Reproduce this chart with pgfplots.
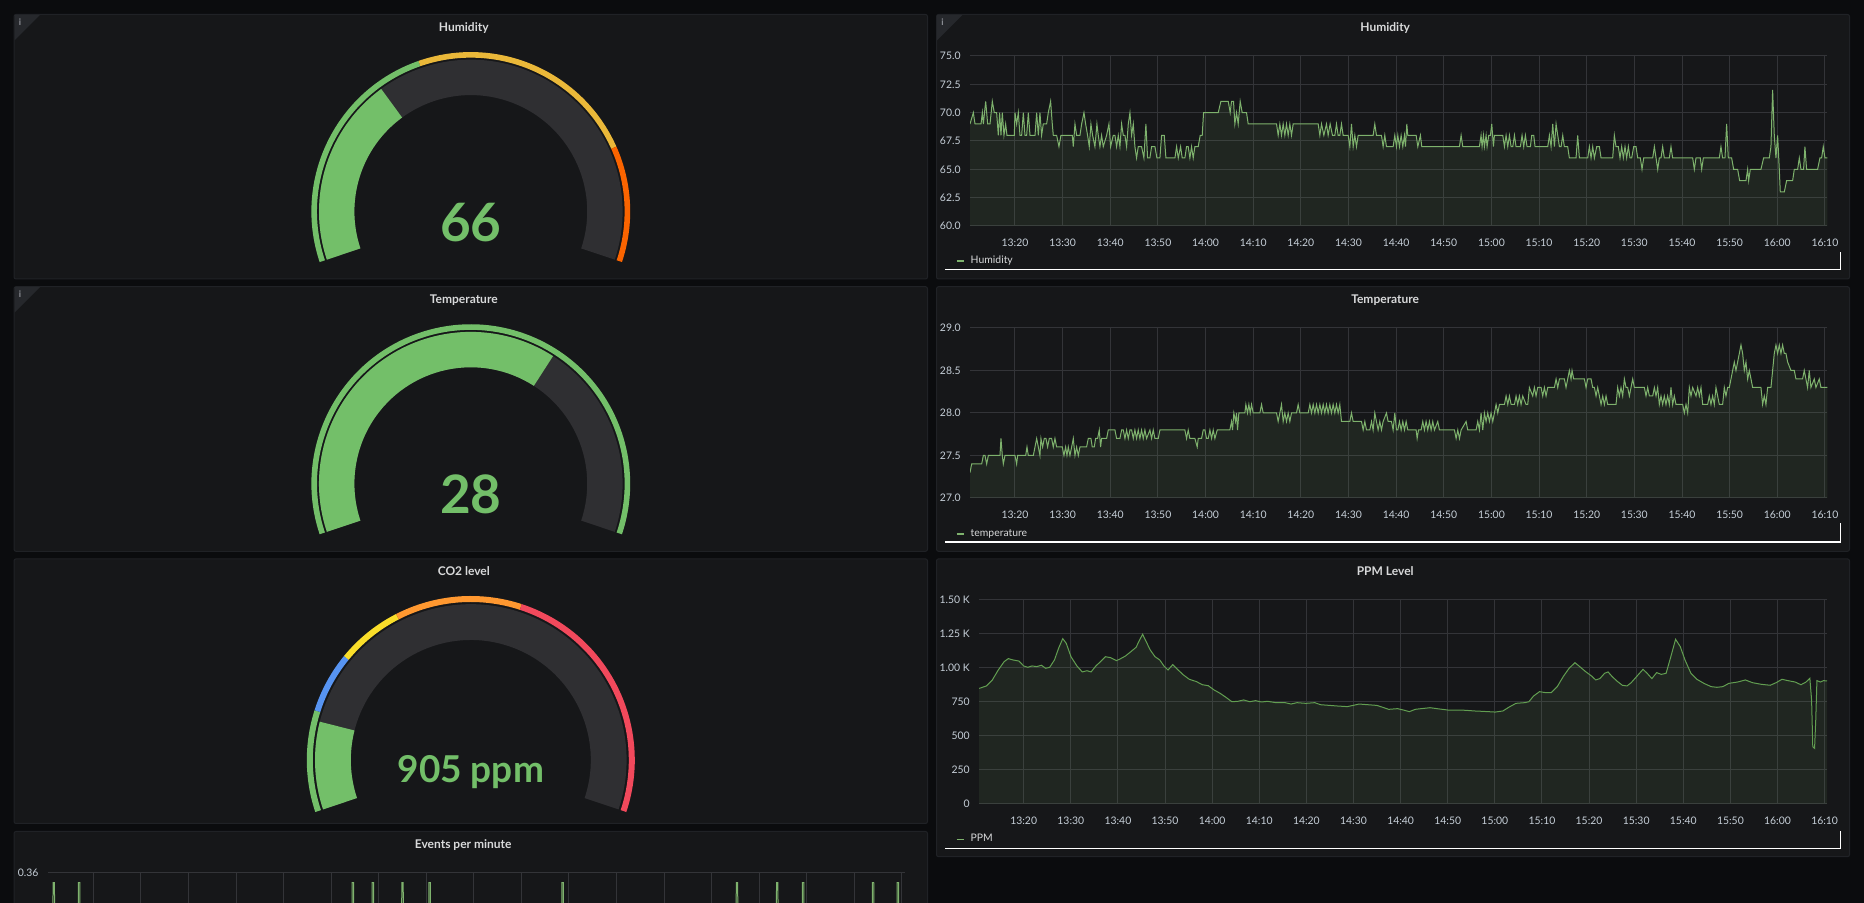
\documentclass[border=0pt]{standalone}
\usepackage{fontspec}
\setmainfont{Lato}
\usepackage{pgfplots}
\pgfplotsset{compat=1.18}
\usepackage{pgfplotstable}

\definecolor{pagebg}{HTML}{0B0C0E}
\definecolor{panelbg}{HTML}{161719}
\definecolor{panelbd}{HTML}{202226}
\definecolor{track}{HTML}{2F2F32}
\definecolor{ggreen}{HTML}{73BF69}
\definecolor{gyellow}{HTML}{EAB839}
\definecolor{gorange}{HTML}{FA6400}
\definecolor{gblue}{HTML}{5794F2}
\definecolor{gyellow2}{HTML}{FADE2A}
\definecolor{gorange2}{HTML}{FF9830}
\definecolor{gred}{HTML}{F2495C}
\definecolor{series}{HTML}{7EB26D}
\definecolor{seriesdk}{HTML}{629E51}
\definecolor{gridc}{HTML}{333438}
\definecolor{tickc}{HTML}{C7D0D9}
\definecolor{titlec}{HTML}{D8D9DA}
\definecolor{infobg}{HTML}{26282C}
\definecolor{infoc}{HTML}{8E9197}

\newcommand{\tickfont}{\fontsize{5.2}{6}\selectfont}
\newcommand{\titlefont}{\fontsize{6}{7}\selectfont\bfseries}
\newcommand{\bigfont}{\fontsize{26.5}{30}\selectfont\bfseries}
\newcommand{\ppmfont}{\fontsize{18.5}{22}\selectfont\bfseries}

% annular sector: r_in, r_out, a_start, a_end, colour
\newcommand{\sector}[5]{\fill[#5] (#3:#2) arc[start angle=#3,end angle=#4,radius=#2] -- (#4:#1) arc[start angle=#4,end angle=#3,radius=#1] -- cycle;}

\pgfplotsset{
  graf/.style={
    scale only axis,
    anchor=south west,
    axis line style={draw=none},
    major tick length=0pt,
    tick style={draw=none},
    grid=major,
    major grid style={draw=gridc, line width=0.5pt},
    tick label style={font=\tickfont, text=tickc},
    xticklabel style={yshift=-2.8pt},
    yticklabel style={xshift=-1.2pt},
    xmin=10.56, xmax=190.5,
    xtick={20,30,40,50,60,70,80,90,100,110,120,130,140,150,160,170,180,190},
    xticklabels={13:20,13:30,13:40,13:50,14:00,14:10,14:20,14:30,14:40,14:50,15:00,15:10,15:20,15:30,15:40,15:50,16:00,16:10},
    clip=true,
  }
}

% Humidity (% RH), time in minutes after 13:00
\pgfplotstableread[row sep=\\]{t v\\
10.56 69\\ 11.26 70\\ 11.61 69\\ 12.87 69\\ 13.15 70\\ 13.36 69\\ 13.85 71\\ 14.27 69\\ 14.76 69\\ 15.24 71\\ 15.66 70\\ 16.15 70\\ 16.50 68\\ 16.78 70\\ 17.06 68\\ 17.34 70\\ 17.69 68\\ 18.04 69\\ 18.32 68\\ 19.86 68\\ 20.0 70\\ 20.35 69\\ 20.7 70\\ 21.05 68\\ 21.4 68\\ 21.75 70\\ 22.1 68\\ 22.45 68\\ 22.8 70\\ 23.15 68\\ 24.2 68\\ 24.55 70\\ 24.9 68\\ 25.24 70\\ 25.59 68\\ 25.94 69\\ 26.64 69\\ 26.99 70\\ 27.48 71\\ 27.83 69\\ 28.04 68\\ 28.74 68\\ 29.23 67\\ 29.65 68\\ 32.03 68\\ 32.24 67\\ 32.59 69\\ 32.94 68\\ 33.64 68\\ 33.99 69\\ 34.48 70\\ 34.83 69\\ 35.24 68\\ 35.59 67\\ 35.94 69\\ 36.29 68\\ 36.78 67\\ 37.2 69\\ 37.48 68\\ 37.83 67\\ 38.18 68\\ 38.53 67\\ 39.23 68\\ 39.72 69\\ 40.07 67\\ 40.63 68\\ 40.98 68\\ 41.33 67\\ 41.68 68\\ 42.03 67\\ 42.38 69\\ 42.73 68\\ 43.08 68\\ 43.43 67\\ 43.78 69\\ 44.13 70\\ 44.48 68\\ 44.83 69\\ 45.17 67\\ 45.52 66\\ 45.87 67\\ 46.57 67\\ 47.06 66\\ 47.48 69\\ 47.83 66\\ 48.32 66\\ 48.67 67\\ 49.37 67\\ 49.79 66\\ 50.42 66\\ 50.77 68\\ 51.33 68\\ 51.68 66\\ 53.57 66\\ 53.92 67\\ 54.27 66\\ 54.76 67\\ 55.1 66\\ 55.66 66\\ 56.01 67\\ 56.36 67\\ 56.71 66\\ 57.06 67\\ 57.41 66\\ 57.76 67\\ 58.46 67\\ 58.88 68\\ 59.3 68\\ 59.58 70\\ 62.66 70\\ 63.22 71\\ 64.76 71\\ 65.17 70\\ 65.45 71\\ 65.87 71\\ 66.15 69\\ 66.5 70\\ 66.85 69\\ 67.27 71\\ 67.69 70\\ 68.6 70\\ 68.95 69\\ 74.9 69\\ 75.24 68\\ 75.59 69\\ 75.94 68\\ 76.29 69\\ 76.64 68\\ 76.99 69\\ 77.34 68\\ 77.69 69\\ 78.04 68\\ 78.39 69\\ 83.64 69\\ 83.99 68\\ 84.34 69\\ 84.83 68\\ 85.38 69\\ 85.73 68\\ 86.15 69\\ 86.64 68\\ 87.13 68\\ 87.48 69\\ 87.83 68\\ 88.18 68\\ 88.53 69\\ 88.88 68\\ 89.93 68\\ 90.28 67\\ 90.63 69\\ 90.98 67\\ 91.33 68\\ 91.68 67\\ 92.03 68\\ 95.17 68\\ 95.52 69\\ 95.87 68\\ 96.92 68\\ 97.27 67\\ 97.62 68\\ 97.97 67\\ 99.37 67\\ 99.72 68\\ 100.07 67\\ 100.35 68\\ 100.7 67\\ 101.05 68\\ 101.4 67\\ 101.75 68\\ 101.96 67\\ 102.24 69\\ 102.45 68\\ 104.2 68\\ 104.55 67\\ 105.1 68\\ 105.38 67\\ 113.29 67\\ 113.64 68\\ 113.99 67\\ 117.48 67\\ 117.83 68\\ 118.04 67\\ 118.32 68\\ 118.53 67\\ 118.88 68\\ 119.09 67\\ 119.44 68\\ 119.79 68\\ 120.07 69\\ 120.42 67\\ 120.63 68\\ 122.38 68\\ 122.73 67\\ 123.08 68\\ 123.43 67\\ 123.78 68\\ 124.13 67\\ 124.48 67\\ 124.83 68\\ 125.17 67\\ 126.08 67\\ 126.43 68\\ 126.78 67\\ 127.13 68\\ 127.48 67\\ 128.18 67\\ 128.46 68\\ 128.88 68\\ 129.16 67\\ 131.82 67\\ 132.17 68\\ 132.52 67\\ 132.87 69\\ 133.22 67\\ 133.57 69\\ 133.92 68\\ 134.27 67\\ 134.62 67\\ 134.97 68\\ 135.31 67\\ 136.01 67\\ 136.36 66\\ 137.76 66\\ 138.11 68\\ 138.46 66\\ 140.21 66\\ 140.56 67\\ 140.91 66\\ 141.26 67\\ 141.61 66\\ 142.1 67\\ 142.66 67\\ 143.01 66\\ 145.45 66\\ 145.8 68\\ 146.15 67\\ 146.64 67\\ 146.99 66\\ 147.34 67\\ 147.69 66\\ 148.04 67\\ 148.39 66\\ 148.74 67\\ 149.09 66\\ 149.44 66\\ 149.86 67\\ 150.35 67\\ 150.7 66\\ 151.26 66\\ 151.61 65\\ 151.96 66\\ 153.85 66\\ 154.2 67\\ 154.55 66\\ 154.9 65\\ 155.24 66\\ 155.59 66\\ 155.94 67\\ 156.29 66\\ 157.34 66\\ 157.69 67\\ 158.04 66\\ 162.24 66\\ 162.59 65\\ 162.94 66\\ 163.85 66\\ 164.13 65\\ 164.48 66\\ 167.83 66\\ 168.18 67\\ 168.53 66\\ 169.02 66\\ 169.37 69\\ 169.72 66\\ 170.42 66\\ 170.84 65\\ 171.68 65\\ 172.1 64\\ 173.43 64\\ 173.78 65\\ 173.99 64\\ 174.34 65\\ 176.57 65\\ 177.13 66\\ 178.32 66\\ 178.67 67\\ 179.02 72\\ 179.37 68\\ 179.72 66\\ 180.07 68\\ 180.42 65\\ 180.63 63\\ 181.47 63\\ 181.96 64\\ 183.22 64\\ 183.57 65\\ 184.27 65\\ 184.62 66\\ 184.97 65\\ 185.52 65\\ 185.8 67\\ 186.15 65\\ 188.46 65\\ 188.95 66\\ 189.3 66\\ 189.65 67\\ 190.0 66\\ 190.5 66\\
}\humdata

% Temperature
\pgfplotstableread[row sep=\\]{t v\\
10.56 27.3\\ 10.91 27.4\\ 13.01 27.4\\ 13.36 27.5\\ 13.71 27.5\\ 14.06 27.4\\ 14.41 27.5\\ 16.85 27.5\\ 17.06 27.7\\ 17.34 27.5\\ 17.55 27.4\\ 17.9 27.5\\ 20.0 27.5\\ 20.35 27.4\\ 20.56 27.5\\ 22.24 27.5\\ 22.52 27.6\\ 22.8 27.5\\ 23.85 27.5\\ 24.2 27.6\\ 24.55 27.7\\ 24.9 27.6\\ 25.24 27.5\\ 25.45 27.7\\ 25.8 27.6\\ 26.15 27.7\\ 26.5 27.7\\ 26.85 27.6\\ 27.2 27.7\\ 27.69 27.7\\ 28.04 27.6\\ 28.39 27.7\\ 28.74 27.6\\ 29.93 27.6\\ 30.28 27.5\\ 30.63 27.6\\ 30.91 27.5\\ 31.19 27.6\\ 31.54 27.5\\ 31.89 27.6\\ 32.24 27.7\\ 32.59 27.5\\ 32.94 27.6\\ 33.29 27.5\\ 33.64 27.6\\ 35.03 27.6\\ 35.38 27.7\\ 35.94 27.7\\ 36.22 27.6\\ 36.64 27.6\\ 36.92 27.7\\ 37.34 27.7\\ 37.69 27.8\\ 37.97 27.6\\ 38.18 27.7\\ 39.23 27.7\\ 39.58 27.8\\ 40.98 27.8\\ 41.33 27.7\\ 42.03 27.7\\ 42.38 27.8\\ 42.73 27.8\\ 43.08 27.7\\ 43.43 27.8\\ 43.78 27.7\\ 44.13 27.8\\ 44.48 27.8\\ 44.83 27.7\\ 45.17 27.8\\ 45.52 27.7\\ 45.87 27.8\\ 46.22 27.7\\ 46.57 27.8\\ 46.92 27.7\\ 47.27 27.8\\ 47.62 27.7\\ 48.32 27.8\\ 48.67 27.7\\ 49.02 27.8\\ 49.37 27.7\\ 50.07 27.7\\ 50.42 27.8\\ 55.66 27.8\\ 56.01 27.7\\ 56.36 27.8\\ 56.71 27.7\\ 57.76 27.7\\ 58.25 27.6\\ 58.46 27.7\\ 59.16 27.7\\ 59.51 27.8\\ 59.86 27.8\\ 60.21 27.7\\ 60.56 27.7\\ 60.91 27.8\\ 61.26 27.7\\ 61.61 27.8\\ 61.96 27.7\\ 62.45 27.8\\ 65.1 27.8\\ 65.45 27.9\\ 65.66 27.8\\ 65.94 28.0\\ 66.29 27.9\\ 66.5 28.0\\ 66.71 27.8\\ 66.99 28.0\\ 68.25 28.0\\ 68.46 28.1\\ 68.81 28.0\\ 69.09 28.1\\ 69.37 28.0\\ 69.65 28.1\\ 70.0 28.0\\ 71.4 28.0\\ 71.75 28.1\\ 72.1 28.0\\ 74.9 28.0\\ 75.24 27.9\\ 75.59 28.0\\ 75.94 28.1\\ 76.29 27.9\\ 76.64 28.0\\ 76.99 27.9\\ 77.34 28.0\\ 77.69 27.9\\ 78.04 28.0\\ 79.09 28.0\\ 79.44 28.1\\ 79.79 28.0\\ 81.54 28.0\\ 81.89 28.1\\ 82.24 28.0\\ 82.59 28.1\\ 82.94 28.0\\ 83.29 28.1\\ 83.64 28.0\\ 83.99 28.1\\ 84.34 28.0\\ 84.69 28.1\\ 85.03 28.0\\ 85.38 28.1\\ 85.73 28.0\\ 86.08 28.1\\ 86.43 28.0\\ 86.78 28.1\\ 87.13 28.0\\ 87.48 28.1\\ 87.83 28.0\\ 88.18 28.1\\ 88.53 27.9\\ 90.28 27.9\\ 90.63 28.0\\ 90.98 27.9\\ 92.73 27.9\\ 93.08 27.8\\ 93.43 27.9\\ 93.78 27.8\\ 94.48 27.8\\ 94.83 27.9\\ 95.17 27.8\\ 95.52 28.0\\ 95.87 27.9\\ 96.22 27.8\\ 96.57 27.9\\ 96.92 27.8\\ 97.27 27.9\\ 97.97 28.0\\ 98.32 27.9\\ 99.02 27.9\\ 99.37 27.8\\ 99.72 28.0\\ 100.07 27.8\\ 100.35 27.8\\ 100.7 27.9\\ 101.05 27.8\\ 101.4 27.9\\ 101.75 27.8\\ 102.1 27.9\\ 102.45 27.8\\ 104.2 27.8\\ 104.41 27.7\\ 104.69 27.8\\ 105.24 27.8\\ 105.59 27.9\\ 105.94 27.8\\ 106.29 27.9\\ 106.64 27.8\\ 106.99 27.9\\ 107.34 27.8\\ 107.69 27.9\\ 108.04 27.8\\ 108.74 27.9\\ 109.09 27.8\\ 112.24 27.8\\ 112.59 27.7\\ 112.94 27.8\\ 113.29 27.7\\ 113.64 27.8\\ 114.69 27.9\\ 115.03 27.8\\ 116.78 27.8\\ 117.13 27.9\\ 117.48 27.8\\ 117.83 28.0\\ 118.18 27.8\\ 118.53 28.0\\ 118.88 27.9\\ 119.23 28.0\\ 119.58 27.9\\ 119.93 28.0\\ 120.28 27.9\\ 120.63 28.0\\ 120.98 28.1\\ 121.33 28.0\\ 121.68 28.1\\ 122.73 28.1\\ 123.08 28.2\\ 123.43 28.1\\ 123.78 28.2\\ 124.13 28.1\\ 124.83 28.1\\ 125.17 28.2\\ 125.52 28.1\\ 125.87 28.2\\ 126.22 28.1\\ 126.57 28.2\\ 127.27 28.1\\ 127.62 28.1\\ 127.97 28.3\\ 128.67 28.2\\ 129.02 28.3\\ 129.37 28.2\\ 129.72 28.3\\ 130.42 28.3\\ 130.77 28.2\\ 131.12 28.3\\ 131.47 28.2\\ 131.82 28.3\\ 133.22 28.3\\ 133.57 28.4\\ 133.92 28.3\\ 134.27 28.4\\ 135.31 28.4\\ 135.66 28.3\\ 136.01 28.4\\ 136.36 28.5\\ 136.71 28.4\\ 136.92 28.5\\ 137.27 28.4\\ 139.51 28.4\\ 139.86 28.3\\ 140.21 28.4\\ 140.91 28.4\\ 141.26 28.3\\ 141.61 28.3\\ 141.96 28.2\\ 142.31 28.3\\ 142.66 28.2\\ 143.01 28.1\\ 143.36 28.2\\ 143.71 28.1\\ 144.06 28.2\\ 144.41 28.1\\ 146.15 28.1\\ 146.5 28.3\\ 146.85 28.2\\ 147.2 28.3\\ 147.55 28.2\\ 147.9 28.4\\ 148.25 28.3\\ 148.6 28.3\\ 148.95 28.2\\ 149.3 28.3\\ 149.65 28.4\\ 150.0 28.3\\ 152.1 28.3\\ 152.45 28.2\\ 152.8 28.3\\ 153.15 28.2\\ 153.85 28.2\\ 154.2 28.3\\ 154.55 28.2\\ 154.9 28.3\\ 155.24 28.1\\ 155.59 28.2\\ 155.94 28.1\\ 156.29 28.2\\ 156.64 28.1\\ 156.99 28.2\\ 157.34 28.1\\ 157.69 28.3\\ 158.04 28.1\\ 158.39 28.2\\ 158.74 28.1\\ 160.14 28.1\\ 160.49 28.0\\ 160.84 28.1\\ 161.19 28.0\\ 161.54 28.3\\ 161.89 28.2\\ 162.24 28.3\\ 162.94 28.2\\ 163.29 28.3\\ 163.64 28.2\\ 163.99 28.3\\ 164.34 28.1\\ 165.38 28.1\\ 165.73 28.2\\ 166.08 28.1\\ 166.43 28.2\\ 166.78 28.1\\ 167.13 28.3\\ 167.48 28.2\\ 167.83 28.1\\ 168.53 28.1\\ 168.88 28.3\\ 169.23 28.2\\ 169.58 28.3\\ 169.93 28.3\\ 170.28 28.4\\ 170.63 28.5\\ 170.98 28.6\\ 171.33 28.5\\ 171.68 28.6\\ 172.03 28.7\\ 172.38 28.8\\ 172.73 28.7\\ 173.08 28.5\\ 173.43 28.6\\ 173.78 28.4\\ 174.13 28.5\\ 174.48 28.4\\ 174.83 28.3\\ 176.57 28.3\\ 176.92 28.1\\ 177.27 28.2\\ 177.62 28.1\\ 177.97 28.3\\ 178.67 28.3\\ 179.02 28.5\\ 179.37 28.7\\ 179.72 28.8\\ 180.07 28.7\\ 180.42 28.8\\ 180.77 28.7\\ 181.12 28.8\\ 181.47 28.7\\ 181.82 28.7\\ 182.17 28.6\\ 182.87 28.5\\ 183.57 28.5\\ 183.92 28.4\\ 185.31 28.4\\ 185.66 28.5\\ 186.01 28.4\\ 186.36 28.3\\ 186.71 28.5\\ 187.06 28.3\\ 187.76 28.4\\ 188.11 28.3\\ 188.81 28.4\\ 189.16 28.3\\ 190.5 28.3\\
}\tempdata

% CO2 (ppm)
\pgfplotstableread[row sep=\\]{t v\\
10.56 850\\ 12.09 868\\ 13.35 912\\ 14.6 985\\ 15.86 1047\\ 16.74 1069\\ 17.74 1059\\ 19.0 1051\\ 20.0 1015\\ 20.88 1005\\ 21.76 1015\\ 22.76 1010\\ 23.77 1020\\ 24.65 998\\ 25.52 1005\\ 26.53 1059\\ 27.41 1145\\ 28.29 1216\\ 29.04 1181\\ 30.04 1083\\ 31.3 1015\\ 32.43 971\\ 33.43 980\\ 34.31 971\\ 35.32 1015\\ 36.32 1047\\ 37.33 1083\\ 38.46 1076\\ 39.71 1054\\ 40.59 1069\\ 41.59 1088\\ 42.85 1123\\ 43.85 1152\\ 44.61 1206\\ 45.24 1248\\ 45.99 1194\\ 46.87 1132\\ 47.87 1083\\ 48.88 1059\\ 49.76 1015\\ 50.63 985\\ 51.64 1025\\ 52.64 990\\ 53.9 949\\ 55.15 917\\ 56.66 900\\ 57.92 877\\ 59.17 870\\ 60.43 838\\ 61.68 814\\ 62.94 784\\ 64.19 752\\ 65.45 755\\ 66.7 765\\ 67.96 752\\ 69.22 760\\ 70.47 750\\ 71.73 755\\ 73.61 745\\ 75.49 745\\ 76.75 735\\ 78.0 745\\ 79.89 740\\ 81.77 745\\ 83.03 730\\ 84.91 725\\ 86.79 720\\ 88.68 716\\ 89.93 725\\ 91.19 735\\ 93.07 730\\ 94.95 725\\ 96.21 711\\ 97.46 696\\ 99.35 701\\ 100.6 691\\ 101.86 679\\ 103.11 696\\ 104.37 701\\ 106.25 708\\ 108.14 699\\ 110.02 691\\ 111.9 691\\ 113.79 689\\ 115.67 684\\ 117.55 681\\ 120.06 676\\ 121.7 684\\ 122.95 711\\ 124.46 740\\ 126.34 745\\ 127.22 752\\ 128.22 794\\ 129.48 826\\ 130.73 819\\ 131.99 819\\ 133.25 863\\ 134.5 936\\ 135.76 998\\ 137.01 1039\\ 138.02 1010\\ 139.27 973\\ 140.53 941\\ 141.41 912\\ 142.29 922\\ 143.29 961\\ 144.04 971\\ 144.92 936\\ 146.05 900\\ 147.06 873\\ 148.06 868\\ 148.94 892\\ 150.19 941\\ 151.45 990\\ 152.33 961\\ 153.33 922\\ 154.34 966\\ 155.34 953\\ 156.35 961\\ 157.35 1083\\ 158.36 1211\\ 159.36 1157\\ 160.36 1059\\ 161.62 961\\ 162.88 917\\ 164.38 887\\ 165.89 863\\ 167.15 858\\ 168.4 863\\ 169.66 887\\ 171.54 897\\ 173.17 912\\ 174.68 892\\ 176.56 880\\ 178.44 873\\ 179.7 892\\ 180.95 917\\ 182.21 907\\ 183.72 897\\ 184.97 877\\ 185.98 895\\ 186.86 924\\ 187.23 765\\ 187.48 422\\ 187.86 409\\ 188.11 618\\ 188.36 907\\ 189.11 897\\ 189.74 907\\ 190.5 905\\
}\ppmdata

% Events per minute
\pgfplotstableread[row sep=\\]{t v\\
10.45 0\\ 11.43 0\\ 11.53 0.34\\ 11.83 0.34\\ 11.93 0\\ 16.77 0\\ 16.87 0.34\\ 17.17 0.34\\ 17.27 0\\ 74.31 0\\ 74.41 0.34\\ 74.71 0.34\\ 74.81 0\\ 78.53 0\\ 78.63 0.34\\ 78.93 0.34\\ 79.03 0\\ 84.75 0\\ 84.85 0.34\\ 85.15 0.34\\ 85.25 0\\ 90.46 0\\ 90.56 0.34\\ 90.86 0.34\\ 90.96 0\\ 118.43 0\\ 118.53 0.34\\ 118.83 0.34\\ 118.93 0\\ 155.07 0\\ 155.17 0.34\\ 155.47 0.34\\ 155.57 0\\ 163.53 0\\ 163.63 0.34\\ 163.93 0.34\\ 164.03 0\\ 168.99 0\\ 169.09 0.34\\ 169.39 0.34\\ 169.49 0\\ 183.67 0\\ 183.77 0.34\\ 184.07 0.34\\ 184.17 0\\ 188.88 0\\ 188.98 0.34\\ 189.28 0.34\\ 189.38 0\\ 190.6 0\\
}\evdata

\begin{document}
\begin{tikzpicture}
\useasboundingbox (0,0) rectangle (932pt,451.5pt);
\clip (0,0) rectangle (932pt,451.5pt);
\fill[pagebg] (0,0) rectangle (932pt,451.5pt);

% ---------- panels ----------
\begin{scope}[line width=0.5pt, rounded corners=1pt]
\filldraw[fill=panelbg, draw=panelbd] (7pt,312pt) rectangle (463.75pt,444.25pt);
\filldraw[fill=panelbg, draw=panelbd] (7pt,175.85pt) rectangle (463.75pt,308.15pt);
\filldraw[fill=panelbg, draw=panelbd] (7pt,39.75pt) rectangle (463.75pt,172.05pt);
\filldraw[fill=panelbg, draw=panelbd] (7pt,-20pt) rectangle (463.75pt,35.75pt);
\filldraw[fill=panelbg, draw=panelbd] (468.25pt,312pt) rectangle (924.75pt,444.25pt);
\filldraw[fill=panelbg, draw=panelbd] (468.25pt,175.85pt) rectangle (924.75pt,308.15pt);
\filldraw[fill=panelbg, draw=panelbd] (468.25pt,23.15pt) rectangle (924.75pt,172.05pt);
\end{scope}

% info corners
\fill[infobg] (7.25pt,444pt) -- (20pt,444pt) -- (7.25pt,431.25pt) -- cycle;
\node[text=infoc, inner sep=0, font=\fontsize{4.5}{5}\selectfont\bfseries] at (10pt,440.6pt) {i};
\fill[infobg] (7.25pt,307.9pt) -- (20pt,307.9pt) -- (7.25pt,295.15pt) -- cycle;
\node[text=infoc, inner sep=0, font=\fontsize{4.5}{5}\selectfont\bfseries] at (10pt,304.5pt) {i};
\fill[infobg] (468.5pt,444pt) -- (481.25pt,444pt) -- (468.5pt,431.25pt) -- cycle;
\node[text=infoc, inner sep=0, font=\fontsize{4.5}{5}\selectfont\bfseries] at (471.25pt,440.6pt) {i};

% ---------- titles ----------
\node[anchor=base, inner sep=0, text=titlec] at (231.9pt,435.65pt) {\titlefont Humidity};
\node[anchor=base, inner sep=0, text=titlec] at (231.9pt,299.55pt) {\titlefont Temperature};
\node[anchor=base, inner sep=0, text=titlec] at (231.9pt,163.5pt) {\titlefont CO2 level};
\node[anchor=base, inner sep=0, text=titlec] at (231.6pt,27.35pt) {\titlefont Events per minute};
\node[anchor=base, inner sep=0, text=titlec] at (692.6pt,435.65pt) {\titlefont Humidity};
\node[anchor=base, inner sep=0, text=titlec] at (692.6pt,299.55pt) {\titlefont Temperature};
\node[anchor=base, inner sep=0, text=titlec] at (692.6pt,163.5pt) {\titlefont PPM Level};

% ---------- gauges ----------
% Humidity: value 66, scale 49..100, thresholds 70, 90
\begin{scope}[shift={(235.4pt,345.75pt)}]
  \pgfmathsetmacro{\aV}{198.5-217*((66-49)/51)}
  \pgfmathsetmacro{\aT}{198.5-217*((70-49)/51)}
  \pgfmathsetmacro{\aU}{198.5-217*((90-49)/51)}
  \sector{58.2pt}{75.9pt}{198.5}{-18.5}{track}
  \sector{58.2pt}{75.9pt}{198.5}{\aV}{ggreen}
  \sector{76.9pt}{79.7pt}{198.5}{\aT}{ggreen}
  \sector{76.9pt}{79.7pt}{\aT}{\aU}{gyellow}
  \sector{76.9pt}{79.7pt}{\aU}{-18.5}{gorange}
\end{scope}
\node[anchor=base, inner sep=0, text=ggreen] at (235.4pt,330.65pt) {\bigfont 66};

% Temperature: value 28, scale 0..43
\begin{scope}[shift={(235.4pt,209.65pt)}]
  \pgfmathsetmacro{\aV}{198.5-217*(28/43)}
  \sector{58.2pt}{75.9pt}{198.5}{-18.5}{track}
  \sector{58.2pt}{75.9pt}{198.5}{\aV}{ggreen}
  \sector{76.9pt}{79.7pt}{198.5}{-18.5}{ggreen}
\end{scope}
\node[anchor=base, inner sep=0, text=ggreen] at (235.4pt,194.85pt) {\bigfont 28};

% CO2: value 905, scale 0..6000, thresholds 1000, 1600, 2250, 3500
\begin{scope}[shift={(235.4pt,71.5pt)}]
  \pgfmathsetmacro{\aV}{198.5-217*(905/6000)}
  \pgfmathsetmacro{\aA}{198.5-217*(1000/6000)}
  \pgfmathsetmacro{\aB}{198.5-217*(1600/6000)}
  \pgfmathsetmacro{\aC}{198.5-217*(2250/6000)}
  \pgfmathsetmacro{\aD}{198.5-217*(3500/6000)}
  \sector{60pt}{77.9pt}{198.5}{-18.5}{track}
  \sector{60pt}{77.9pt}{198.5}{\aV}{ggreen}
  \sector{79pt}{82pt}{198.5}{\aA}{ggreen}
  \sector{79pt}{82pt}{\aA}{\aB}{gblue}
  \sector{79pt}{82pt}{\aB}{\aC}{gyellow2}
  \sector{79pt}{82pt}{\aC}{\aD}{gorange2}
  \sector{79pt}{82pt}{\aD}{-18.5}{gred}
\end{scope}
\node[anchor=base, inner sep=0, text=ggreen] at (235.4pt,60pt) {\ppmfont 905 ppm};

% ---------- time series ----------
\begin{axis}[graf, at={(485pt,338.5pt)}, width=428.65pt, height=85pt,
  ymin=60, ymax=75, ytick={60,62.5,65,67.5,70,72.5,75},
  yticklabels={60.0,62.5,65.0,67.5,70.0,72.5,75.0}]
\addplot[draw=none, fill=series, fill opacity=0.1, mark=none] table[x=t,y=v]{\humdata} \closedcycle;
\addplot[draw=series, line width=0.5pt, mark=none] table[x=t,y=v]{\humdata};
\end{axis}

\begin{axis}[graf, at={(485pt,202.5pt)}, width=428.65pt, height=85pt,
  ymin=27, ymax=29, ytick={27,27.5,28,28.5,29},
  yticklabels={27.0,27.5,28.0,28.5,29.0}]
\addplot[draw=none, fill=series, fill opacity=0.1, mark=none] table[x=t,y=v]{\tempdata} \closedcycle;
\addplot[draw=series, line width=0.5pt, mark=none] table[x=t,y=v]{\tempdata};
\end{axis}

\begin{axis}[graf, at={(489.6pt,49.5pt)}, width=423.9pt, height=102pt,
  ymin=0, ymax=1500, ytick={0,250,500,750,1000,1250,1500},
  yticklabels={0,250,500,750,1.00 K,1.25 K,1.50 K}]
\addplot[draw=none, fill=series, fill opacity=0.1, mark=none] table[x=t,y=v]{\ppmdata} \closedcycle;
\addplot[draw=seriesdk, line width=0.5pt, mark=none] table[x=t,y=v]{\ppmdata};
\end{axis}

% Events per minute: only its top strip is visible in the screenshot
\begin{axis}[graf, at={(23.95pt,-71pt)}, width=428.45pt, height=86pt,
  xmin=10.45, xmax=190.6, xticklabels={},
  ymin=0, ymax=0.36, ytick={0.36}, yticklabels={0.36}]
\addplot[draw=none, fill=series, fill opacity=0.1, mark=none] table[x=t,y=v]{\evdata} \closedcycle;
\addplot[draw=series, line width=0.5pt, mark=none] table[x=t,y=v]{\evdata};
\end{axis}

% ---------- legends ----------
\draw[series, line width=0.8pt] (478.35pt,321.05pt) -- (482.2pt,321.05pt);
\node[anchor=base west, inner sep=0, text=titlec] at (485.15pt,319.85pt) {\tickfont Humidity};
\draw[white, line width=0.7pt] (472.45pt,316.85pt) -- (920.15pt,316.85pt) -- (920.15pt,325.65pt);

\draw[series, line width=0.8pt] (478.35pt,184.35pt) -- (482.2pt,184.35pt);
\node[anchor=base west, inner sep=0, text=titlec] at (485.15pt,183.15pt) {\tickfont temperature};
\draw[white, line width=0.7pt] (472.45pt,180.5pt) -- (920.15pt,180.5pt) -- (920.15pt,189.85pt);

\draw[series, line width=0.8pt] (478.35pt,31.7pt) -- (482.2pt,31.7pt);
\node[anchor=base west, inner sep=0, text=titlec] at (485.15pt,30.5pt) {\tickfont PPM};
\draw[white, line width=0.7pt] (472.45pt,27.35pt) -- (920.15pt,27.35pt) -- (920.15pt,36.15pt);
\end{tikzpicture}
\end{document}
